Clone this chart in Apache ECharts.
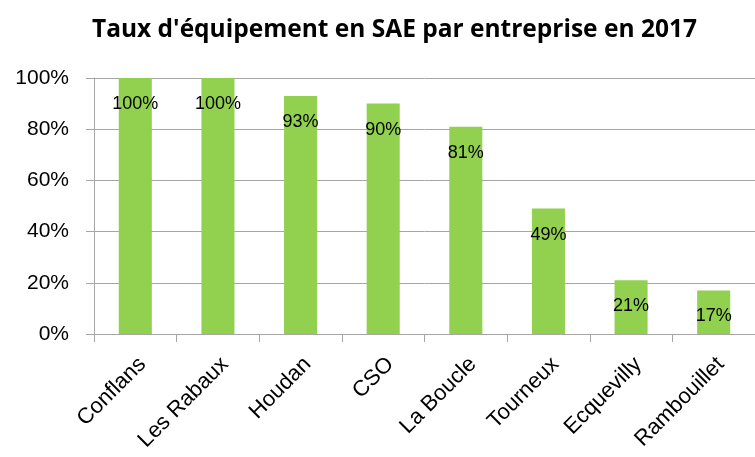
<!DOCTYPE html>
<html>
<head>
<meta charset="utf-8">
<script src="https://cdn.jsdelivr.net/npm/echarts@6/dist/echarts.min.js"></script>
<style>
  html, body { margin: 0; padding: 0; background: #ffffff; }
  #chart { width: 755px; height: 457px; }
</style>
</head>
<body>
<div id="chart"></div>
<script>
var titleText = "Taux d'équipement en SAE par entreprise en 2017"
var categories = ["Conflans", "Les Rabaux", "Houdan", "CSO", "La Boucle", "Tourneux", "Ecquevilly", "Rambouillet"]
var rates = [100, 100, 93, 90, 81, 49, 21, 17]

var chart = echarts.init(document.getElementById("chart"))

var font = "'Liberation Sans', 'DejaVu Sans', sans-serif"

var option = {
  animation: false,
  title: {
    text: titleText,
    left: 87,
    top: 13,
    textStyle: {
      fontFamily: "'Open Sans', sans-serif",
      fontWeight: "bold",
      fontSize: 24.5,
      color: "#000000"
    }
  },
  grid: {
    left: 94,
    right: -3,
    top: 78,
    bottom: 123,
    containLabel: false
  },
  xAxis: {
    type: "category",
    data: categories,
    axisLine: { show: true, lineStyle: { color: "#A6A6A6", width: 1 } },
    axisTick: { show: true, alignWithLabel: false, length: 8, lineStyle: { color: "#A6A6A6" } },
    axisLabel: {
      rotate: 45,
      interval: 0,
      margin: 34,
      padding: [0, -10, 0, 0],
      fontFamily: font,
      fontSize: 22,
      color: "#000000"
    }
  },
  yAxis: {
    type: "value",
    min: 0,
    max: 100,
    interval: 20,
    axisLine: { show: true, lineStyle: { color: "#A6A6A6", width: 1 } },
    axisTick: { show: true, length: 8, lineStyle: { color: "#A6A6A6" } },
    splitLine: { show: true, lineStyle: { color: "#A6A6A6", width: 1 } },
    axisLabel: {
      formatter: "{value}%",
      margin: 25,
      fontFamily: font,
      fontSize: 21,
      color: "#000000"
    }
  },
  series: [
    {
      name: "Taux",
      type: "bar",
      data: rates,
      barWidth: "40%",
      itemStyle: { color: "#92D050" },
      label: {
        show: true,
        position: "insideTop",
        distance: 17,
        formatter: "{c}%",
        fontFamily: font,
        fontSize: 18,
        color: "#000000"
      }
    }
  ]
}

chart.setOption(option)
</script>
</body>
</html>
